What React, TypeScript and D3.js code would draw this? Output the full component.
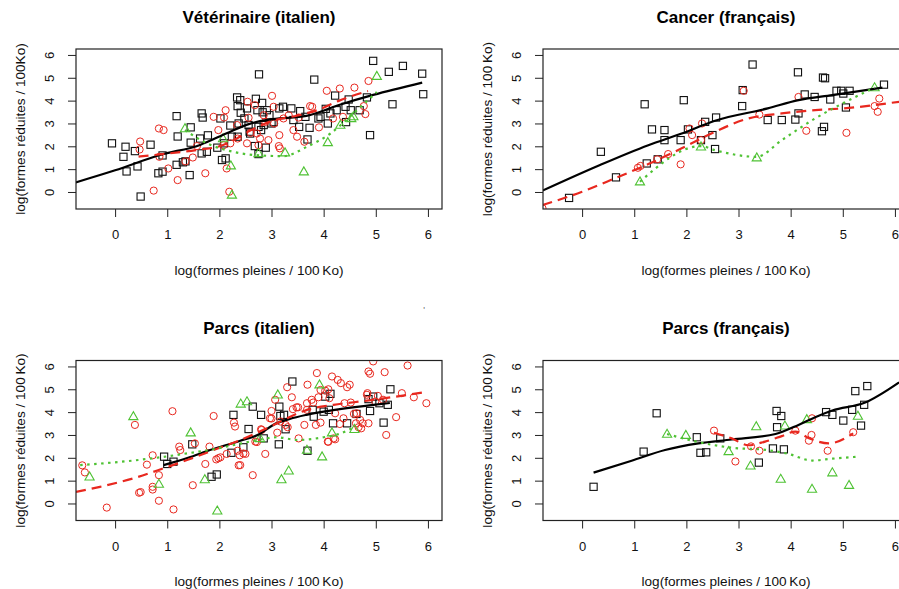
import React, { useRef, useEffect } from "react";
import * as d3 from "d3";

type Pt = [number, number];

const xTicks = [0, 1, 2, 3, 4, 5, 6];
const yTicks = [0, 1, 2, 3, 4, 5, 6];
const xLabel = "log(formes pleines / 100\u2009Ko)";

// --- Vétérinaire (italien)
const vetItSquares: Pt[] = [
  [-0.06, 2.13], [0.16, 1.54], [0.2, 1.98], [0.22, 0.9], [0.38, 1.79], [0.43, 1.12], [0.49, -0.2], [0.68, 2.07],
  [0.83, 0.82], [0.91, 0.89], [0.91, 1.6], [1.18, 3.32], [1.2, 2.43], [1.18, 1.19], [1.3, 1.3], [1.35, 1.34],
  [1.43, 0.74], [1.45, 2.83], [1.45, 2.16], [1.63, 2.34], [1.66, 3.44], [1.68, 3.26], [1.66, 1.69], [1.76, 1.76],
  [1.78, 2.48], [1.96, 1.94], [2.02, 3.22], [2.05, 1.4], [2.09, 2.13], [2.12, 1.47], [2.21, 2.91], [2.24, 2.42],
  [2.34, 4.14], [2.35, 3.76], [2.35, 2.42], [2.4, 4.02], [2.37, 3.0], [2.41, 3.47], [2.48, 3.22], [2.53, 3.66],
  [2.56, 2.93], [2.58, 2.64], [2.59, 2.56], [2.68, 2.01], [2.7, 4.08], [2.73, 3.58], [2.75, 2.85], [2.75, 1.66],
  [2.76, 5.15], [2.8, 2.71], [2.82, 3.9], [2.83, 3.49], [2.85, 2.93], [2.89, 1.94], [2.91, 3.58], [2.96, 3.36],
  [3.0, 3.0], [3.04, 3.06], [3.15, 3.66], [3.22, 3.73], [3.38, 3.66], [3.42, 3.15], [3.53, 2.85], [3.55, 3.54],
  [3.65, 3.29], [3.69, 2.3], [3.73, 2.81], [3.82, 4.92], [3.9, 3.22], [3.94, 3.29], [4.04, 3.64], [4.08, 3.0],
  [4.13, 3.44], [4.22, 4.22], [4.25, 3.58], [4.42, 3.73], [4.43, 3.06], [4.48, 4.05], [4.52, 3.58], [4.69, 3.58],
  [4.83, 4.14], [4.89, 2.49], [4.95, 5.74], [5.25, 5.26], [5.32, 3.84], [5.52, 5.52], [5.89, 5.18], [5.91, 4.28],
];
const vetItCircles: Pt[] = [
  [0.48, 2.21], [0.47, 1.86], [0.74, 0.06], [0.84, 2.78], [0.93, 2.71], [0.85, 1.54], [1.02, 1.03], [1.2, 0.52],
  [1.35, 1.34], [1.49, 1.51], [1.57, 2.01], [1.73, 0.82], [1.89, 3.29], [1.98, 2.71], [2.08, 2.05], [2.12, 3.58],
  [2.09, 3.26], [2.14, 1.03], [2.19, 0.01], [2.21, 2.13], [2.34, 2.93], [2.35, 2.34], [2.53, 2.13], [2.54, 3.95],
  [2.6, 2.59], [2.68, 3.8], [2.72, 2.56], [2.75, 2.05], [2.78, 2.34], [2.85, 3.36], [2.88, 3.07], [2.94, 2.27],
  [3.01, 4.21], [3.04, 3.73], [3.05, 3.0], [3.14, 2.01], [3.15, 2.49], [3.16, 1.91], [3.23, 3.22], [3.33, 3.36],
  [3.42, 2.71], [3.49, 2.42], [3.52, 3.26], [3.63, 2.2], [3.74, 3.76], [3.78, 3.73], [3.91, 2.83], [4.06, 4.43],
  [4.18, 3.22], [4.31, 4.53], [4.37, 3.29], [4.59, 4.57], [4.77, 3.76], [4.8, 3.41], [4.86, 4.86], [2.56, 3.25],
];
const vetItTriangles: Pt[] = [
  [1.34, 2.78], [2.07, 2.34], [2.22, 1.15], [2.24, -0.13], [2.75, 1.69], [3.26, 1.72], [3.62, 0.89], [4.08, 2.17],
  [4.32, 2.93], [4.53, 3.22], [4.57, 3.3], [5.02, 5.07],
];
const vetItSolid: Pt[] = [
  [-0.77, 0.41], [0.0, 0.95], [0.86, 1.62], [1.63, 2.06], [2.14, 2.57], [2.52, 2.94], [2.78, 3.1], [3.03, 3.19],
  [3.67, 3.33], [4.31, 3.82], [4.95, 4.25], [5.89, 4.79],
];
const vetItDashed: Pt[] = [
  [0.45, 1.55], [1.0, 1.68], [1.6, 1.85], [2.0, 2.0], [2.3, 2.3], [2.6, 2.7], [3.0, 3.1], [3.5, 3.35],
  [3.9, 3.6], [4.3, 4.0], [4.85, 4.42],
];
const vetItDotted: Pt[] = [
  [1.34, 2.71], [1.76, 2.13], [2.14, 1.83], [2.66, 1.62], [3.23, 1.57], [3.68, 1.98], [4.13, 2.56], [4.57, 3.44],
  [5.02, 4.38],
];

// --- Cancer (français)
const canFrSquares: Pt[] = [
  [-0.25, -0.26], [0.36, 1.76], [0.65, 0.64], [1.2, 3.84], [1.24, 1.25], [1.34, 2.74], [1.45, 1.43], [1.58, 2.71],
  [1.58, 2.27], [1.89, 2.27], [1.95, 4.02], [2.03, 2.74], [2.28, 2.27], [2.36, 3.07], [2.5, 2.49], [2.55, 1.88],
  [2.57, 3.26], [3.07, 3.76], [3.08, 4.46], [3.27, 5.58], [3.56, 3.15], [3.83, 3.15], [4.09, 3.17], [4.14, 5.24],
  [4.15, 3.44], [4.27, 4.27], [4.46, 4.16], [4.6, 2.66], [4.64, 2.85], [4.62, 5.01], [4.66, 4.98], [4.76, 4.05],
  [4.88, 4.43], [4.97, 4.43], [5.01, 4.31], [5.06, 3.7], [5.13, 4.43], [5.79, 4.7],
];
const canFrCircles: Pt[] = [
  [-0.76, -0.71], [1.07, 1.06], [1.12, 1.14], [1.44, 1.43], [1.65, 1.66], [1.89, 1.21], [2.06, 2.78], [2.11, 2.49],
  [2.3, 3.0], [2.28, 2.27], [3.1, 4.43], [3.4, 3.39], [4.15, 4.16], [4.3, 2.68], [5.07, 2.59], [5.61, 3.76],
  [5.67, 3.51], [5.7, 4.09],
];
const canFrTriangles: Pt[] = [[1.11, 0.45], [2.28, 1.98], [3.35, 1.5], [5.61, 4.57]];
const canFrSolid: Pt[] = [
  [-0.76, 0.06], [0.31, 1.15], [1.27, 2.05], [1.91, 2.56], [2.55, 3.12], [3.56, 3.66], [4.15, 4.02], [4.8, 4.24],
  [5.76, 4.57],
];
const canFrDashed: Pt[] = [
  [-0.76, -0.57], [0.0, 0.01], [0.63, 0.6], [1.27, 1.22], [1.91, 1.91], [2.55, 2.64], [3.19, 3.22], [3.83, 3.44],
  [4.47, 3.58], [5.12, 3.68], [6.08, 3.95],
];
const canFrDotted: Pt[] = [
  [1.11, 0.45], [2.28, 2.01], [2.55, 1.83], [3.35, 1.54], [3.83, 2.27], [4.47, 3.22], [4.99, 3.87], [5.61, 4.57],
];

// --- Parcs (italien)
const parItSquares: Pt[] = [
  [0.94, 2.05], [1.0, 1.73], [1.12, 1.83], [1.48, 2.59], [1.85, 1.17], [1.95, 1.27], [2.23, 2.22], [2.27, 3.88],
  [2.46, 2.46], [2.56, 3.26], [2.64, 4.24], [2.8, 3.88], [2.85, 2.85], [3.14, 2.59], [3.15, 4.24], [3.17, 3.83],
  [3.24, 3.88], [3.27, 3.25], [3.4, 5.34], [3.69, 2.31], [3.79, 4.1], [3.81, 3.8], [4.0, 4.02], [4.03, 4.68],
  [4.1, 4.1], [4.13, 4.8], [4.18, 3.51], [4.45, 3.51], [4.63, 3.92], [4.86, 4.57], [4.89, 4.05], [4.95, 4.68],
  [5.07, 4.39], [5.15, 3.54], [5.23, 4.32], [5.28, 5.0],
];
const parItCircles: Pt[] = [
  [-0.63, 1.67], [-0.58, 1.36], [-0.16, -0.18], [0.38, 3.44], [0.46, 0.47], [0.49, 0.5], [0.61, 1.7], [0.72, 2.11],
  [0.72, 0.73], [0.72, 0.61], [0.84, 1.24], [0.84, 0.12], [1.1, 4.04], [1.12, -0.26], [1.23, 2.49], [1.25, 2.34],
  [1.49, 0.8], [1.53, 2.63], [1.73, 1.73], [1.81, 2.49], [1.89, 3.83], [1.94, 1.93], [1.98, 1.98], [2.02, 2.02],
  [2.14, 2.17], [2.28, 3.54], [2.3, 3.37], [2.35, 2.31], [2.37, 1.67], [2.39, 2.11], [2.5, 2.17], [2.64, 1.24],
  [2.69, 2.71], [2.72, 2.69], [2.8, 3.25], [2.88, 2.17], [3.0, 4.05], [3.0, 3.72], [3.07, 4.54], [3.11, 3.1],
  [3.17, 3.59], [3.27, 3.44], [3.3, 5.09], [3.31, 3.34], [3.39, 4.65], [3.41, 4.13], [3.48, 4.21], [3.51, 4.21],
  [3.52, 2.85], [3.63, 3.44], [3.68, 4.39], [3.68, 4.1], [3.69, 5.2], [3.77, 4.54], [3.85, 3.44], [3.87, 5.71],
  [3.9, 4.65], [3.94, 3.54], [3.94, 4.97], [4.03, 4.94], [4.08, 2.71], [4.11, 4.61], [4.16, 5.56], [4.19, 2.85],
  [4.22, 3.95], [4.27, 5.41], [4.31, 3.48], [4.33, 5.27], [4.38, 3.73], [4.4, 4.39], [4.45, 5.09], [4.5, 5.2],
  [4.52, 4.42], [4.58, 3.92], [4.62, 3.51], [4.7, 3.66], [4.72, 3.29], [4.75, 3.51], [4.83, 4.76], [4.84, 4.83],
  [4.86, 5.78], [4.86, 3.51], [4.89, 5.68], [4.95, 6.22], [4.99, 4.46], [5.04, 4.71], [5.14, 4.54], [5.17, 5.75],
  [5.2, 3.0], [5.39, 3.78], [5.5, 4.83], [5.61, 6.04], [5.73, 4.65], [5.97, 4.39], [2.97, 3.73], [2.81, 3.22],
  [3.8, 4.42], [4.09, 2.7], [4.22, 2.81], [4.67, 3.34], [4.63, 3.95], [4.09, 5.0], [2.46, 2.19], [2.4, 1.68],
];
const parItTriangles: Pt[] = [
  [-0.49, 1.17], [0.35, 3.81], [0.84, 0.85], [1.45, 3.1], [1.72, 1.05], [1.96, -0.32], [2.41, 4.36], [2.53, 4.46],
  [2.78, 2.85], [3.12, 4.76], [3.19, 1.05], [3.33, 1.43], [3.68, 2.34], [3.92, 5.2], [3.97, 2.05], [4.16, 3.1],
  [4.59, 3.25],
];
const parItSolid: Pt[] = [
  [0.93, 1.68], [1.4, 2.0], [1.82, 2.34], [2.4, 2.75], [2.78, 3.05], [3.03, 3.44], [3.35, 3.7], [3.67, 3.88],
  [4.31, 4.13], [4.95, 4.32], [5.27, 4.4],
];
const parItDashed: Pt[] = [
  [-0.75, 0.51], [-0.29, 0.73], [0.35, 1.1], [0.93, 1.54], [1.38, 1.9], [1.89, 2.34], [2.4, 2.78], [2.91, 3.29],
  [3.36, 3.8], [3.68, 4.1], [4.19, 4.32], [4.83, 4.5], [5.91, 4.86],
];
const parItDotted: Pt[] = [
  [-0.67, 1.68], [0.35, 1.88], [0.86, 2.02], [1.4, 2.2], [1.9, 2.38], [2.4, 2.62], [2.78, 2.8], [3.1, 2.9],
  [3.5, 2.78], [4.0, 2.9], [4.3, 3.05], [4.59, 3.35],
];

// --- Parcs (français)
const parFrSquares: Pt[] = [
  [0.22, 0.73], [1.18, 2.27], [1.43, 3.95], [2.2, 2.9], [2.27, 2.22], [2.38, 2.24], [2.65, 2.85], [3.39, 1.79],
  [3.66, 2.41], [3.73, 4.05], [3.74, 3.34], [3.82, 3.83], [3.87, 2.37], [4.68, 4.0], [4.8, 3.88], [5.01, 3.63],
  [5.18, 4.1], [5.24, 4.92], [5.35, 3.41], [5.41, 4.32], [5.47, 5.14],
];
const parFrCircles: Pt[] = [
  [2.53, 3.19], [2.94, 1.84], [3.24, 2.5], [3.4, 2.31], [4.09, 3.19], [4.35, 2.75], [4.4, 3.0], [4.41, 3.73],
  [4.71, 2.31], [5.2, 3.12],
];
const parFrTriangles: Pt[] = [
  [1.63, 3.04], [1.99, 2.99], [2.81, 2.28], [3.23, 1.65], [3.34, 3.37], [3.81, 1.07], [3.89, 3.4], [4.31, 3.68],
  [4.41, 0.63], [4.8, 1.35], [5.12, 0.8], [5.29, 3.83],
];
const parFrSolid: Pt[] = [
  [0.22, 1.35], [0.95, 1.87], [1.59, 2.34], [2.23, 2.63], [2.87, 2.8], [3.71, 3.04], [4.15, 3.44], [4.47, 3.78],
  [4.8, 4.07], [5.43, 4.42], [6.08, 5.3],
];
const parFrDashed: Pt[] = [
  [2.53, 3.1], [2.87, 2.85], [3.19, 2.55], [3.51, 2.71], [3.83, 2.95], [4.09, 3.15], [4.35, 2.86], [4.73, 2.63],
  [5.2, 3.07],
];
const parFrDotted: Pt[] = [
  [1.63, 3.04], [2.23, 2.69], [2.87, 2.44], [3.51, 2.35], [3.96, 2.17], [4.41, 1.88], [4.8, 1.96], [5.29, 2.05],
];

const titles = ["Vétérinaire (italien)", "Cancer (français)", "Parcs (italien)", "Parcs (français)"];
const yLabels = [
  "log(formes réduites / 100Ko)",
  "log(formes réduites / 100\u2009Ko)",
  "log(formes réduites / 100\u2009Ko)",
  "log(formes réduites / 100\u2009Ko)",
];

const panels = [
  { squares: vetItSquares, circles: vetItCircles, triangles: vetItTriangles, solid: vetItSolid, dashed: vetItDashed, dotted: vetItDotted },
  { squares: canFrSquares, circles: canFrCircles, triangles: canFrTriangles, solid: canFrSolid, dashed: canFrDashed, dotted: canFrDotted },
  { squares: parItSquares, circles: parItCircles, triangles: parItTriangles, solid: parItSolid, dashed: parItDashed, dotted: parItDotted },
  { squares: parFrSquares, circles: parFrCircles, triangles: parFrTriangles, solid: parFrSolid, dashed: parFrDashed, dotted: parFrDotted },
];

const RED = "#E8281F";
const GREEN = "#4FC234";
const FONT = "'Liberation Sans', Arial, Helvetica, sans-serif";

const App = () => {
  const plot = useRef<SVGSVGElement>(null);
  const width = 899;
  const height = 589;
  const boxW = 366;
  const boxH = 160;

  useEffect(() => {
    const svg = d3.select(plot.current);
    svg.selectAll("*").remove();

    panels.forEach((p, i) => {
      const left = i % 2 === 0 ? 76 : 543;
      const top = i < 2 ? 49 : 360.5;

      const xScale = d3.scaleLinear().domain([-0.75, 6.27]).range([left, left + boxW]);
      const yScale = d3.scaleLinear().domain([-0.745, 6.26]).range([top + boxH, top]);

      const clipId = `clip-${i}`;
      svg.append("clipPath").attr("id", clipId)
        .append("rect")
        .attr("x", left).attr("y", top)
        .attr("width", boxW).attr("height", boxH);

      // title
      svg.append("text")
        .attr("x", left + boxW / 2)
        .attr("y", top - 26.3)
        .attr("text-anchor", "middle")
        .attr("font-family", FONT)
        .attr("font-weight", "bold")
        .attr("font-size", 17)
        .text(titles[i]);

      // x axis
      const xAxis = d3.axisBottom(xScale).tickValues(xTicks).tickSize(8).tickSizeOuter(0).tickFormat(d3.format("d"));
      svg.append("g")
        .attr("transform", `translate(0, ${top + boxH})`)
        .attr("color", "#222")
        .call(xAxis)
        .call(g => g.select(".domain").remove())
        .call(g => g.selectAll(".tick text")
          .attr("y", 30)
          .attr("dy", null)
          .attr("font-size", 13)
          .attr("font-family", FONT)
          .attr("fill", "#111"));

      // y axis
      const yAxis = d3.axisLeft(yScale).tickValues(yTicks).tickSize(8).tickSizeOuter(0).tickFormat(d3.format("d"));
      svg.append("g")
        .attr("transform", `translate(${left}, 0)`)
        .attr("color", "#222")
        .call(yAxis)
        .call(g => g.select(".domain").remove())
        .call(g => g.selectAll(".tick text")
          .attr("x", null)
          .attr("dy", "0.36em")
          .attr("text-anchor", "middle")
          .attr("transform", "translate(-27,0) rotate(-90)")
          .attr("font-size", 13)
          .attr("font-family", FONT)
          .attr("fill", "#111"));

      // axis labels
      svg.append("text")
        .attr("x", left + boxW / 2)
        .attr("y", top + boxH + 65.5)
        .attr("text-anchor", "middle")
        .attr("font-family", FONT)
        .attr("font-size", 13.6)
        .attr("fill", "#111")
        .text(xLabel);

      svg.append("text")
        .attr("transform", `translate(${left - 56}, ${top + boxH / 2}) rotate(-90)`)
        .attr("dy", "0.36em")
        .attr("text-anchor", "middle")
        .attr("font-family", FONT)
        .attr("font-size", 13.6)
        .attr("fill", "#111")
        .text(yLabels[i]);

      const g = svg.append("g").attr("clip-path", `url(#${clipId})`);

      // points
      g.selectAll("rect.sq")
        .data(p.squares)
        .join("rect")
        .attr("class", "sq")
        .attr("x", d => xScale(d[0]) - 3.6)
        .attr("y", d => yScale(d[1]) - 3.6)
        .attr("width", 7.2)
        .attr("height", 7.2)
        .attr("fill", "none")
        .attr("stroke", "#111")
        .attr("stroke-width", 1.1);

      g.selectAll("circle.ci")
        .data(p.circles)
        .join("circle")
        .attr("class", "ci")
        .attr("cx", d => xScale(d[0]))
        .attr("cy", d => yScale(d[1]))
        .attr("r", 3.6)
        .attr("fill", "none")
        .attr("stroke", RED)
        .attr("stroke-width", 1);

      g.selectAll("path.tr")
        .data(p.triangles)
        .join("path")
        .attr("class", "tr")
        .attr("d", d => {
          const cx = xScale(d[0]);
          const cy = yScale(d[1]);
          return `M${cx},${cy - 4.8}L${cx - 4.6},${cy + 3.2}L${cx + 4.6},${cy + 3.2}Z`;
        })
        .attr("fill", "none")
        .attr("stroke", GREEN)
        .attr("stroke-width", 1.1);

      // smoothed lines
      const line = d3.line<Pt>()
        .x(d => xScale(d[0]))
        .y(d => yScale(d[1]))
        .curve(d3.curveMonotoneX);

      g.append("path")
        .attr("fill", "none")
        .attr("stroke", "#000")
        .attr("stroke-width", 2.2)
        .attr("d", line(p.solid));

      g.append("path")
        .attr("fill", "none")
        .attr("stroke", RED)
        .attr("stroke-width", 2.2)
        .attr("stroke-dasharray", "10,6")
        .attr("d", line(p.dashed));

      g.append("path")
        .attr("fill", "none")
        .attr("stroke", GREEN)
        .attr("stroke-width", 2.2)
        .attr("stroke-dasharray", "2.5,4.5")
        .attr("d", line(p.dotted));

      // box
      svg.append("rect")
        .attr("x", left)
        .attr("y", top)
        .attr("width", boxW)
        .attr("height", boxH)
        .attr("fill", "none")
        .attr("stroke", "#222")
        .attr("stroke-width", 1.2);
    });

    // stray mark visible between the panels
    svg.append("text")
      .attr("x", 424)
      .attr("y", 313)
      .attr("text-anchor", "middle")
      .attr("font-family", FONT)
      .attr("font-size", 9)
      .attr("fill", "#666")
      .text("'");
  });

  return (
    <>
      <style>{`body { margin: 0; background: #fff; }`}</style>
      <svg ref={plot} width={width} height={height} style={{ display: "block" }} />
    </>
  );
};

export default App;
